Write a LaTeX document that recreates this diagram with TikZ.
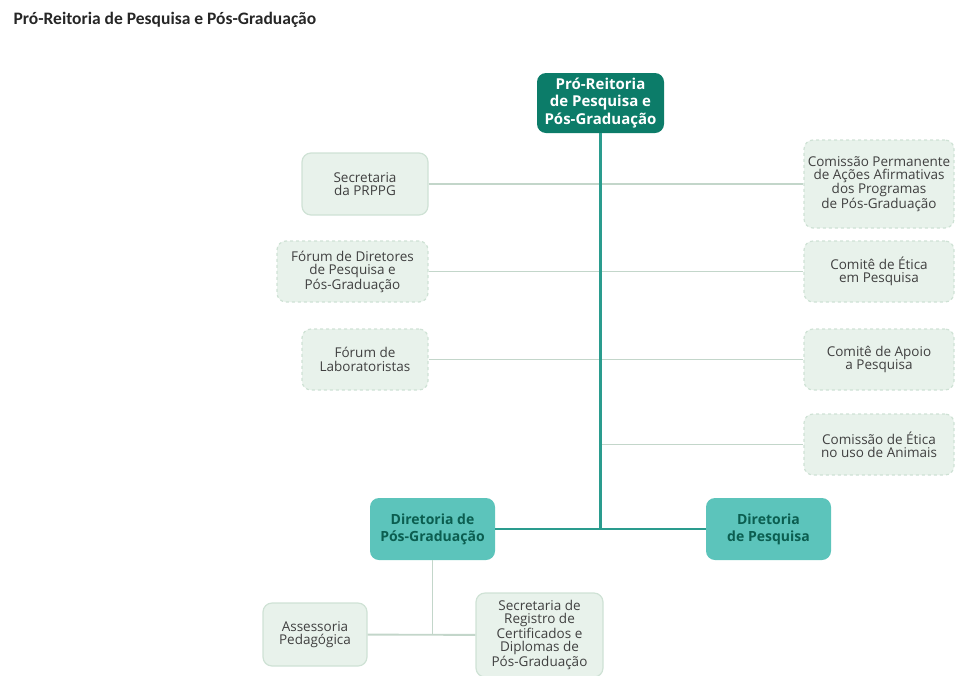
\documentclass[tikz,border=0pt]{standalone}
\usepackage{fontspec}
\setmainfont{Open Sans}
\newfontfamily\titlefont{Carlito}
\usepackage{tikz}

\definecolor{prdark}{HTML}{0C7C69}
\definecolor{prteal}{HTML}{5CC4BB}
\definecolor{prtext}{HTML}{0B5E50}
\definecolor{prfill}{HTML}{E8F2EB}
\definecolor{prborder}{HTML}{CFE2D5}
\definecolor{prline}{HTML}{C3D6CA}
\definecolor{prmain}{HTML}{2A9C8E}

\tikzset{
    unit/.style = {rectangle, rounded corners = 9pt, align = center, inner sep = 0pt},
    headbox/.style = {unit, fill = prdark, text = white,
        font = \bfseries\fontsize{15}{17.5}\selectfont},
    dirbox/.style = {unit, fill = prteal, text = prtext,
        font = \bfseries\fontsize{14}{17}\selectfont},
    staffbox/.style = {unit, fill = prfill, draw = prborder, line width = 1.2pt,
        text = black!75, font = \fontsize{13.5}{13.3}\selectfont},
    boardbox/.style = {staffbox, dashed},
    thin link/.style = {prline, line width = 1.9pt},
    main link/.style = {prmain, line width = 2.3pt}
}

\begin{document}
\begin{tikzpicture}[x = 1pt, y = -1pt]
    \useasboundingbox (0, 0) rectangle (957, 675);

    %% title
    \node[anchor = west, font = \titlefont\bfseries\fontsize{17.5}{17.5}\selectfont, text = black!85]
        (title) at (10, 20) {Pró-Reitoria de Pesquisa e Pós-Graduação};

    %% head
    \node[headbox, minimum width = 127, minimum height = 60] (prppg) at (600.5, 103)
        {Pró-Reitoria\\de Pesquisa e\\Pós-Graduação};

    %% left side
    \node[staffbox, minimum width = 126, minimum height = 62] (secr) at (365, 184)
        {Secretaria\\da PRPPG};
    \node[boardbox, minimum width = 151, minimum height = 61] (forumdir) at (352.5, 271.5)
        {Fórum de Diretores\\de Pesquisa e\\Pós-Graduação};
    \node[boardbox, minimum width = 126, minimum height = 61] (forumlab) at (365, 359.5)
        {Fórum de\\Laboratoristas};

    %% right side
    \node[boardbox, minimum width = 150, minimum height = 88] (cpaa) at (879, 184)
        {Comissão Permanente\\de Ações Afirmativas\\dos Programas\\de Pós-Graduação};
    \node[boardbox, minimum width = 150, minimum height = 61] (cep) at (879, 271.5)
        {Comitê de Ética\\em Pesquisa};
    \node[boardbox, minimum width = 150, minimum height = 61] (cap) at (879, 359.5)
        {Comitê de Apoio\\a Pesquisa};
    \node[boardbox, minimum width = 150, minimum height = 61] (ceua) at (879, 444.5)
        {Comissão de Ética\\no uso de Animais};

    %% directorates
    \node[dirbox, minimum width = 125, minimum height = 62] (dpg) at (432.5, 529)
        {Diretoria de\\Pós-Graduação};
    \node[dirbox, minimum width = 125, minimum height = 62] (dp) at (768.5, 529)
        {Diretoria\\de Pesquisa};

    %% under Diretoria de Pós-Graduação
    \node[staffbox, minimum width = 104, minimum height = 63] (assped) at (315, 634.5)
        {Assessoria\\Pedagógica};
    \node[staffbox, minimum width = 127, minimum height = 84] (sercd) at (539.5, 635)
        {Secretaria de\\Registro de\\Certificados e\\Diplomas de\\Pós-Graduação};

    %% links
    \coordinate (ceuajoin) at (prppg.south |- ceua.west);
    \coordinate (dirjoin) at (prppg.south |- dpg.east);
    \coordinate (dpgjoin) at (dpg.south |- assped.east);
    \draw[thin link] (secr) -- (cpaa);
    \draw[thin link] (forumdir) -- (cep);
    \draw[thin link] (forumlab) -- (cap);
    \draw[thin link] (ceuajoin) -- (ceua);
    \draw[thin link] (dpg) -- (dpgjoin);
    \draw[thin link] (assped) -- (sercd);
    \draw[main link] (prppg) -- (dirjoin);
    \draw[main link] (dpg) -- (dp);
\end{tikzpicture}
\end{document}
